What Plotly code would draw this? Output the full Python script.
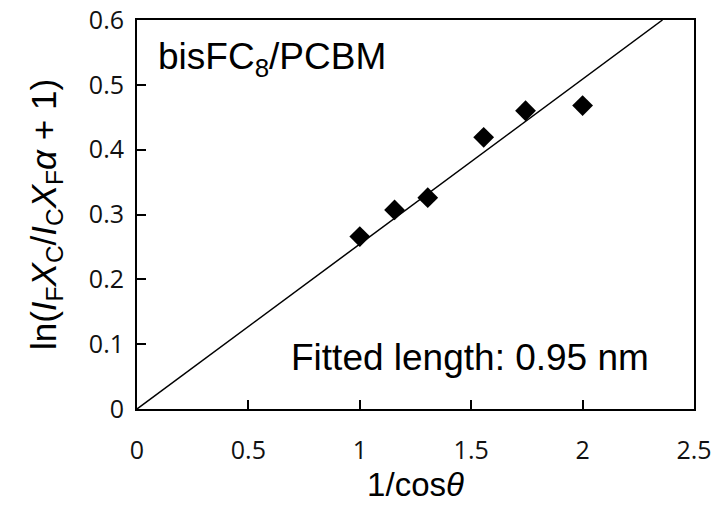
import plotly.graph_objects as go

x_vals = [1.0, 1.156, 1.305, 1.556, 1.744, 2.0]
y_vals = [0.266, 0.307, 0.326, 0.419, 0.460, 0.468]
fit_slope = 0.2544
x_ticks = [0, 0.5, 1, 1.5, 2, 2.5]
x_ticklabels = ["0", "0.5", "1", "1.5", "2", "2.5"]
y_ticks = [0, 0.1, 0.2, 0.3, 0.4, 0.5, 0.6]
y_ticklabels = ["0", "0.1", "0.2", "0.3", "0.4", "0.5", "0.6"]

x_end = 0.6 / fit_slope

fig = go.Figure()
fig.add_trace(go.Scatter(x=[0, x_end], y=[0, fit_slope * x_end], mode="lines",
                         line=dict(color="black", width=1.5), showlegend=False))
fig.add_trace(go.Scatter(x=x_vals, y=y_vals, mode="markers",
                         marker=dict(symbol="diamond", size=16, color="black"),
                         showlegend=False))

font_tick = dict(family="Open Sans, Liberation Sans, sans-serif", size=25, color="#111")
fig.update_xaxes(range=[0, 2.5], tickvals=x_ticks, ticktext=x_ticklabels,
                 ticks="inside", ticklen=9, tickwidth=1.5, tickcolor="black",
                 showline=True, linecolor="black", linewidth=2, mirror=True,
                 showgrid=False, zeroline=False, tickfont=font_tick,
                 ticklabelstandoff=18, automargin=False,
                 title=dict(text="1/cos<i>θ</i>", font=dict(family="Liberation Sans, Arial", size=33, color="black"), standoff=4))
fig.update_yaxes(range=[0, 0.6], tickvals=y_ticks, ticktext=y_ticklabels,
                 ticks="inside", ticklen=9, tickwidth=1.5, tickcolor="black",
                 showline=True, linecolor="black", linewidth=2, mirror=True,
                 showgrid=False, zeroline=False, tickfont=font_tick,
                 ticklabelstandoff=6, automargin=False,
                 title=dict(text="ln(<i>I</i><sub>F</sub><i>X</i><sub>C</sub>/<i>I</i><sub>C</sub><i>X</i><sub>F</sub><i>α</i> + 1)",
                            font=dict(family="Liberation Sans, Arial", size=35, color="black"), standoff=22))

fig.add_annotation(x=0.085, y=0.54, xref="x", yref="y", xanchor="left", yanchor="middle",
                   text="bisFC<sub>8</sub>/PCBM", showarrow=False,
                   font=dict(family="Liberation Sans, Arial", size=37, color="black"))
fig.add_annotation(x=0.68, y=0.079, xref="x", yref="y", xanchor="left", yanchor="middle",
                   text="Fitted length: 0.95 nm", showarrow=False,
                   font=dict(family="Liberation Sans, Arial", size=37, color="black"))

fig.update_layout(width=717, height=507, margin=dict(l=137, r=23, t=20, b=98),
                  plot_bgcolor="white", paper_bgcolor="white")
fig.write_html("out.html")
